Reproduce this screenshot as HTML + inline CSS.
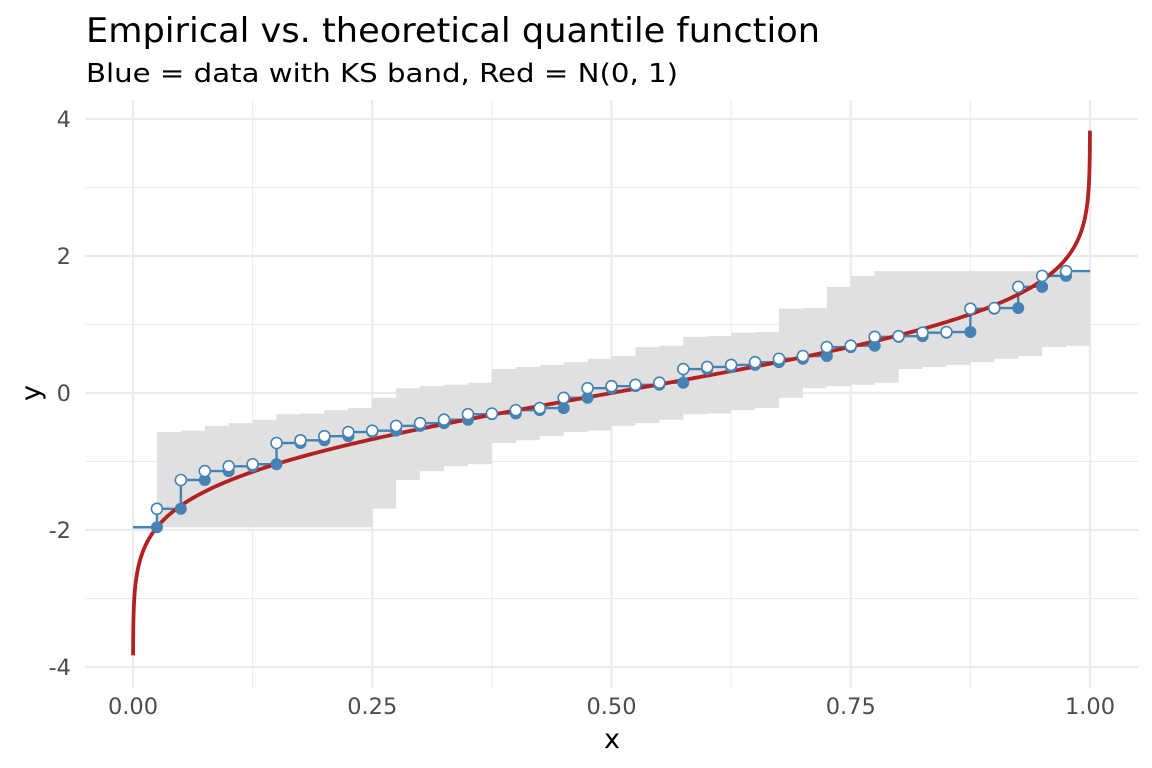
<!DOCTYPE html>
<html><head><meta charset="utf-8"><style>
body{margin:0;background:#fff;}
svg{display:block;font-family:"DejaVu Sans","Liberation Sans",sans-serif;}
</style></head><body>
<svg id="s" width="1152" height="768" xmlns="http://www.w3.org/2000/svg">
<text x="86" y="42" font-size="34" fill="#000" textLength="734" lengthAdjust="spacingAndGlyphs">Empirical vs. theoretical quantile function</text>
<text x="86" y="82" font-size="26" fill="#000" textLength="592" lengthAdjust="spacingAndGlyphs">Blue = data with KS band, Red = N(0, 1)</text>
<g id="grid"></g><g id="band"></g><g id="step"></g><g id="curve"></g><g id="pts"></g><g id="lab"></g>
<text x="612" y="748" font-size="27" text-anchor="middle" fill="#000">x</text>
<text transform="translate(40,393) rotate(-90)" font-size="27" text-anchor="middle" fill="#000">y</text>
</svg>
<script>
var NS="http://www.w3.org/2000/svg";
function X(x){return 133+957*x;} function Y(y){return 393-68.5*y;}
function el(p,t,a){var e=document.createElementNS(NS,t);for(var k in a)e.setAttribute(k,a[k]);document.getElementById(p).appendChild(e);return e;}
var L=85,R=1138,T=100,B=688;
[-3,-1,1,3].forEach(function(v){el("grid","line",{x1:L,x2:R,y1:Y(v),y2:Y(v),stroke:"#ebebeb","stroke-width":1});});
[0.125,0.375,0.625,0.875].forEach(function(v){el("grid","line",{x1:X(v),x2:X(v),y1:T,y2:B,stroke:"#ebebeb","stroke-width":1});});
[-4,-2,0,2,4].forEach(function(v){el("grid","line",{x1:L,x2:R,y1:Y(v),y2:Y(v),stroke:"#ebebeb","stroke-width":2.2});
 var t=el("lab","text",{x:71,y:Y(v)+8,"font-size":22.5,"text-anchor":"end",fill:"#4d4d4d"});t.textContent=v;});
[0,0.25,0.5,0.75,1].forEach(function(v){el("grid","line",{x1:X(v),x2:X(v),y1:T,y2:B,stroke:"#ebebeb","stroke-width":2.2});
 var t=el("lab","text",{x:X(v),y:714,"font-size":22.5,"text-anchor":"middle",fill:"#4d4d4d"});t.textContent=v.toFixed(2);});
var v=[-1.96,-1.69,-1.27,-1.14,-1.07,-1.04,-0.73,-0.69,-0.63,-0.57,-0.55,-0.48,-0.44,-0.39,-0.31,-0.30,-0.25,-0.22,-0.07,0.07,0.10,0.12,0.15,0.35,0.38,0.41,0.45,0.50,0.54,0.67,0.69,0.82,0.83,0.88,0.89,1.23,1.24,1.55,1.71,1.78];
var up="",lo="";
for(var j=1;j<=39;j++){var u=v[Math.min(j+8,39)];
 up+=(j==1?"M":"L")+X(j/40)+","+Y(u)+"L"+X((j+1)/40)+","+Y(u);}
for(var j=39;j>=1;j--){var l=v[Math.max(j-9,0)];lo+="L"+X((j+1)/40)+","+Y(l)+"L"+X(j/40)+","+Y(l);}
el("band","path",{d:up+lo+"Z",fill:"#e0e0e0"});
for(var i=0;i<=39;i++){el("step","line",{x1:X(i/40),x2:X((i+1)/40),y1:Y(v[i]),y2:Y(v[i]),stroke:"#4682b4","stroke-width":2.4});}
for(var i=1;i<=39;i++){el("step","line",{x1:X(i/40),x2:X(i/40),y1:Y(v[i-1]),y2:Y(v[i]),stroke:"#4682b4","stroke-width":2.4});}
function qn(p){var a=[-3.969683028665376e+01,2.209460984245205e+02,-2.759285104469687e+02,1.383577518672690e+02,-3.066479806614716e+01,2.506628277459239e+00],
b=[-5.447609879822406e+01,1.615858368580409e+02,-1.556989798598866e+02,6.680131188771972e+01,-1.328068155288572e+01],
c=[-7.784894002430293e-03,-3.223964580411365e-01,-2.400758277161838e+00,-2.549732539343734e+00,4.374664141464968e+00,2.938163982698783e+00],
d=[7.784695709041462e-03,3.224671290700398e-01,2.445134137142996e+00,3.754408661907416e+00];
var q,r;if(p<0.02425){q=Math.sqrt(-2*Math.log(p));return(((((c[0]*q+c[1])*q+c[2])*q+c[3])*q+c[4])*q+c[5])/((((d[0]*q+d[1])*q+d[2])*q+d[3])*q+1);}
if(p>1-0.02425){return -qn(1-p);}
q=p-0.5;r=q*q;return(((((a[0]*r+a[1])*r+a[2])*r+a[3])*r+a[4])*r+a[5])*q/(((((b[0]*r+b[1])*r+b[2])*r+b[3])*r+b[4])*r+1);}
var d="",ps=[];var e=6.4e-5;
for(var k=0;k<=60;k++){ps.push(e*Math.pow(0.02/e,k/60));}
for(var k=1;k<400;k++){ps.push(0.02+0.96*k/400);}
for(var k=60;k>=0;k--){ps.push(1-e*Math.pow(0.02/e,k/60));}
ps.forEach(function(p,i){d+=(i?"L":"M")+X(p).toFixed(2)+","+Y(qn(p)).toFixed(2);});
el("curve","path",{d:d,fill:"none",stroke:"#b22222","stroke-width":3.8});
for(var i=1;i<=39;i++){el("pts","circle",{cx:X(i/40),cy:Y(v[i-1]),r:6,fill:"#4682b4"});}
for(var i=1;i<=39;i++){el("pts","circle",{cx:X(i/40),cy:Y(v[i]),r:5.5,fill:"#fff",stroke:"#4682b4","stroke-width":1.6});}
</script>
</body></html>
